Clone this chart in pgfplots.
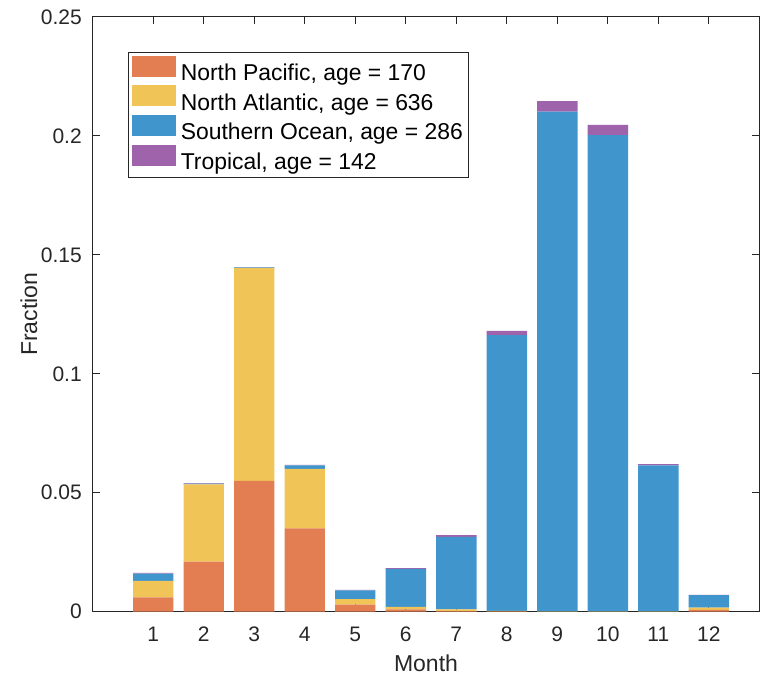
\documentclass[border=0pt]{standalone}
\usepackage{pgfplots}
\pgfplotsset{compat=1.18}
\usepackage{fontspec}
\setmainfont{Liberation Sans}

\definecolor{npcol}{RGB}{226,126,82}
\definecolor{nacol}{RGB}{241,196,88}
\definecolor{socol}{RGB}{64,149,205}
\definecolor{trcol}{RGB}{158,99,170}
\definecolor{axcol}{RGB}{38,38,38}

\pgfplotstableread{
month NP     NA     SO     TR
1     0.0060 0.0070 0.0030 0.0003
2     0.0210 0.0325 0.0003 0.0002
3     0.0550 0.0895 0.0003 0.0001
4     0.0350 0.0250 0.0015 0.0002
5     0.0030 0.0023 0.0037 0.0002
6     0.0010 0.0010 0.0160 0.0003
7     0.0002 0.0008 0.0305 0.0007
8     0.0001 0.0002 0.1160 0.0018
9     0.0000 0.0001 0.2101 0.0044
10    0.0000 0.0001 0.2002 0.0043
11    0.0000 0.0001 0.0614 0.0005
12    0.0008 0.0009 0.0053 0.0001
}\datatable

\begin{document}
\begin{tikzpicture}
\begin{axis}[
    scale only axis,
    width=333.3pt,
    height=297.35pt,
    ybar stacked,
    bar width=0.8,
    xmin=-0.2, xmax=13,
    ymin=0, ymax=0.25,
    xtick={1,...,12},
    xticklabels={1,2,3,4,5,6,7,8,9,10,11,12},
    ytick={0,0.05,0.1,0.15,0.2,0.25},
    yticklabels={0,0.05,0.1,0.15,0.2,0.25},
    /pgf/number format/assume math mode=true,
    tick align=inside,
    major tick length=3.7pt,
    axis line style={draw=axcol, line width=0.5pt},
    every tick/.style={draw=axcol, line width=0.5pt},
    tick label style={font=\fontsize{10.5}{12}\selectfont, text=axcol},
    yticklabel style={inner sep=0pt, anchor=east, xshift=-5.3pt},
    xticklabel style={inner sep=0pt, anchor=north, yshift=-7.5pt},
    xlabel={Month},
    ylabel={Fraction},
    label style={font=\fontsize{11.5}{13}\selectfont, text=axcol},
    xlabel style={at={(axis description cs:0.5,0)}, anchor=base, yshift=-30pt},
    ylabel style={at={(axis description cs:0,0.5)}, anchor=base, yshift=27.8pt},
    legend style={
        at={(0.0534,0.9406)}, anchor=north west,
        draw=axcol, line width=0.5pt,
        inner xsep=1.5pt, inner ysep=1.5pt,
        font=\fontsize{11.45}{13}\selectfont,
        nodes={inner xsep=1.3pt, inner ysep=0.6pt, text height=8.6pt, text depth=1.8pt},
        row sep=0pt,
    },
    legend cell align=left,
    clip=false,
]
\addplot[fill=npcol, draw=none,
    legend image code/.code={\fill[npcol] (0pt,-1.5pt) rectangle (22pt,9pt);}]
    table[x=month, y=NP] {\datatable};
\addlegendentry{\hspace{1.2pt}North Pacific, age = 170}
\addplot[fill=nacol, draw=none,
    legend image code/.code={\fill[nacol] (0pt,-1.5pt) rectangle (22pt,9pt);}]
    table[x=month, y=NA] {\datatable};
\addlegendentry{\hspace{1.2pt}North Atlantic, age = 636}
\addplot[fill=socol, draw=none,
    legend image code/.code={\fill[socol] (0pt,-1.5pt) rectangle (22pt,9pt);}]
    table[x=month, y=SO] {\datatable};
\addlegendentry{\hspace{1.2pt}Southern Ocean, age = 286}
\addplot[fill=trcol, draw=none,
    legend image code/.code={\fill[trcol] (0pt,-1.5pt) rectangle (22pt,9pt);}]
    table[x=month, y=TR] {\datatable};
\addlegendentry{\hspace{1.2pt}Tropical, age = 142}
\end{axis}
\pgfresetboundingbox
\useasboundingbox (-46.35pt,-31.65pt) rectangle (333.65pt,305.85pt);
\end{tikzpicture}
\end{document}
